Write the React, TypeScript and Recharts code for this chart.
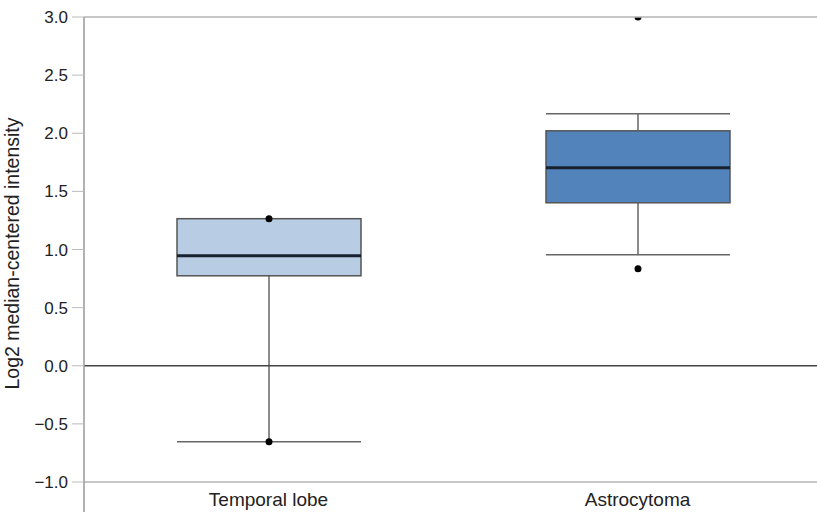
import { Bar, ComposedChart, ReferenceLine, XAxis, YAxis } from 'recharts';

const categories = ['Temporal lobe', 'Astrocytoma'];
const whiskerLow = [-0.654, 0.955];
const q1 = [0.774, 1.402];
const median = [0.946, 1.703];
const q3 = [1.265, 2.021];
const whiskerHigh = [1.265, 2.168];
const outliers = [[1.265, -0.654], [3.0, 0.834]];
const yTicks = [-1, -0.5, 0, 0.5, 1, 1.5, 2, 2.5, 3];

const boxColors = ['#b8cce4', '#5283bb'];

const data = categories.map((name, i) => ({
  name,
  range: [whiskerLow[i], whiskerHigh[i]],
  lo: whiskerLow[i],
  q1: q1[i],
  med: median[i],
  q3: q3[i],
  hi: whiskerHigh[i],
  out: outliers[i],
}));

const fmt = (v: number) => v.toFixed(1).replace('-', '\u2212');

function BoxShape(props: any) {
  const { x, y, width, height, payload, index } = props;
  const { lo, hi } = payload;
  const py = (v: number) => y + ((hi - v) / (hi - lo)) * height;
  const cx = x + width / 2;
  const stroke = '#666';
  return (
    <g>
      <line x1={cx} x2={cx} y1={py(hi)} y2={py(payload.q3)} stroke={stroke} strokeWidth={1.5} />
      <line x1={cx} x2={cx} y1={py(payload.q1)} y2={py(lo)} stroke={stroke} strokeWidth={1.5} />
      {hi > payload.q3 && (
        <line x1={x} x2={x + width} y1={py(hi)} y2={py(hi)} stroke={stroke} strokeWidth={1.5} />
      )}
      <line x1={x} x2={x + width} y1={py(lo)} y2={py(lo)} stroke={stroke} strokeWidth={1.5} />
      <rect
        x={x}
        y={py(payload.q3)}
        width={width}
        height={py(payload.q1) - py(payload.q3)}
        fill={boxColors[index]}
        stroke="#555"
        strokeWidth={1.5}
      />
      <line x1={x} x2={x + width} y1={py(payload.med)} y2={py(payload.med)} stroke="#18222e" strokeWidth={3} />
      {payload.out.map((v: number, j: number) => (
        <circle key={j} cx={cx} cy={py(v)} r={3.5} fill="#000" />
      ))}
    </g>
  );
}

function CatTick(props: any) {
  const { x, y, payload } = props;
  return (
    <text x={x} y={y - 8} textAnchor="middle" fontSize={19} fill="#222" fontFamily="Liberation Sans, Arial, sans-serif">
      {payload.value}
    </text>
  );
}

export default function App() {
  return (
    <div style={{ position: 'absolute', left: 0, top: 0, width: 817, height: 512, overflow: 'hidden', background: '#fff' }}>
      <ComposedChart
        width={822}
        height={513}
        data={data}
        margin={{ top: 17, right: 0, left: 0, bottom: 0 }}
        style={{ fontFamily: 'Liberation Sans, Arial, sans-serif' }}
      >
        <XAxis
          dataKey="name"
          height={1}
          axisLine={false}
          tickLine={false}
          tickSize={0}
          tick={<CatTick />}
          interval={0}
        />
        <XAxis xAxisId="div" type="number" domain={[0, 2]} hide />
        <YAxis
          width={84}
          domain={[-1.258, 3]}
          ticks={yTicks}
          interval={0}
          tickFormatter={fmt}
          tickSize={12}
          tickMargin={4}
          tick={{ fontSize: 17, fill: '#222' }}
          tickLine={{ stroke: '#bbb' }}
          axisLine={{ stroke: '#999', strokeWidth: 1.5 }}
          allowDataOverflow
          label={{
            value: 'Log2 median-centered intensity',
            angle: -90,
            position: 'insideLeft',
            offset: 12,
            dy: -11,
            style: { fontSize: 19.5, fill: '#222', textAnchor: 'middle' },
          }}
        />
        <ReferenceLine y={3} stroke="#b4b4b4" strokeWidth={1.5} />
        <ReferenceLine y={-1} stroke="#b4b4b4" strokeWidth={1.5} />
        <ReferenceLine xAxisId="div" x={1} stroke="#c8c8c8" strokeWidth={1.5} />
        <ReferenceLine y={0} stroke="#444" strokeWidth={1.5} />
        <Bar dataKey="range" barSize={184} shape={<BoxShape />} isAnimationActive={false} />
      </ComposedChart>
    </div>
  );
}
